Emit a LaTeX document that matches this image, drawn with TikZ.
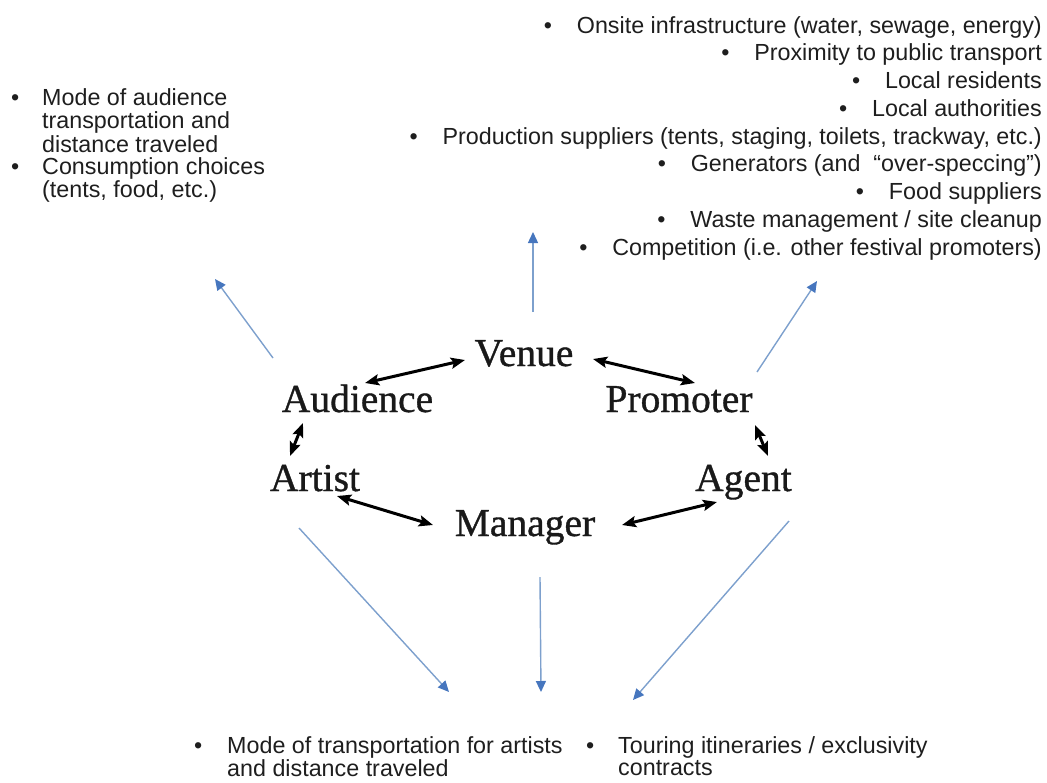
\documentclass[tikz,border=0pt]{standalone}
\usepackage{fontspec}
\setmainfont{Liberation Serif}
\newfontfamily\actorf{Liberation Serif}[BoldFont={Liberation Serif},BoldFeatures={FakeBold=0.9}]
\newfontfamily\arialf{Liberation Sans}
\usetikzlibrary{arrows.meta}
\definecolor{bline}{RGB}{125,160,205}
\definecolor{bhead}{RGB}{70,118,190}
\definecolor{txt}{RGB}{30,30,30}
\newcommand\bulbox[1]{\makebox[#1][l]{\textbullet}}
\begin{document}
\begin{tikzpicture}[x=1pt,y=-1pt,
  actor/.style={anchor=base,inner sep=0pt,font=\actorf\bfseries\fontsize{39.5}{40}\selectfont,text=black!90},
  rel/.style={line width=3pt,{Stealth[length=14pt,width=11pt,inset=2.5pt]}-{Stealth[length=14pt,width=11pt,inset=2.5pt]}},
  impact/.style={line width=1.4pt,draw=bline,-{Triangle[length=11pt,width=10pt,color=bhead]}},
  note/.style={inner sep=0pt,font=\arialf\fontsize{23.3}{22.9}\selectfont,text=txt},
  rline/.style={note,anchor=base east},
  item/.style={note,anchor=base west}
]
\useasboundingbox (0,0) rectangle (1047,782);

% actors
\node[actor] (venue)    at (524,366)   {Venue};
\node[actor] (audience) at (357.5,412) {Audience};
\node[actor] (promoter) at (679,412)   {Promoter};
\node[actor] (artist)   at (315,491)   {Artist};
\node[actor] (agent)    at (743.5,491) {Agent};
\node[actor] (manager)  at (525,536)   {Manager};

% relations
\draw[rel] ([shift={(-59,-6)}]venue.base) -- ([shift={(7.5,-29)}]audience.base);
\draw[rel] ([shift={(69,-7)}]venue.base) -- ([shift={(16,-29)}]promoter.base);
\draw[rel] ([shift={(-54.5,11)}]audience.base) -- ([shift={(-25,-35)}]artist.base);
\draw[rel] ([shift={(76,13)}]promoter.base) -- ([shift={(24.5,-35)}]agent.base);
\draw[rel] ([shift={(22,5)}]artist.base) -- ([shift={(-92,-11)}]manager.base);
\draw[rel] ([shift={(97,-11)}]manager.base) -- ([shift={(-26.5,11)}]agent.base);

% impact arrow ends
\coordinate (tAud) at (215,279);
\coordinate (tVen) at (533,232);
\coordinate (tPro) at (817,281);
\coordinate (tArt) at (449,692);
\coordinate (tMan) at (541,692);
\coordinate (tAge) at (633,700);

\draw[impact] ([shift={(-84.5,-54)}]audience.base) -- (tAud);
\draw[impact] ([shift={(9,-54)}]venue.base) -- (tVen);
\draw[impact] ([shift={(78,-40)}]promoter.base) -- (tPro);
\draw[impact] ([shift={(-16,37)}]artist.base) -- (tArt);
\draw[impact] ([shift={(15,41)}]manager.base) -- (tMan);
\draw[impact] ([shift={(45.5,30)}]agent.base) -- (tAge);

% audience notes
\node[item] (aud1) at (11,105) {\bulbox{31pt}\begin{tabular}[t]{@{}l@{}}Mode of audience\\transportation and\\distance traveled\end{tabular}};
\node[item] (aud2) at (11,174) {\bulbox{31pt}\begin{tabular}[t]{@{}l@{}}Consumption choices\\(tents, food, etc.)\end{tabular}};

% venue / promoter notes
\node[rline] (v1) at (1042,33)    {\bulbox{33pt}Onsite infrastructure (water, sewage, energy)};
\node[rline] (v2) at (1042,60.75) {\bulbox{33pt}Proximity to public transport};
\node[rline] (v3) at (1042,88.5)  {\bulbox{33pt}Local residents};
\node[rline] (v4) at (1042,116.25){\bulbox{33pt}Local authorities};
\node[rline] (v5) at (1042,144)   {\bulbox{33pt}Production suppliers (tents, staging, toilets, trackway, etc.)};
\node[rline] (v6) at (1042,171.75){\bulbox{33pt}Generators (and~ “over-speccing”)};
\node[rline] (v7) at (1042,199.5) {\bulbox{33pt}Food suppliers};
\node[rline] (v8) at (1042,227.25){\bulbox{33pt}Waste management / site cleanup};
\node[rline] (v9) at (1042,255)   {\bulbox{33pt}Competition (i.e. other festival promoters)};

% bottom notes
\node[item] (b1) at (194,753) {\bulbox{33pt}\begin{tabular}[t]{@{}l@{}}Mode of transportation for artists\\and distance traveled\end{tabular}};
\node[item] (b2) at (586,753) {\bulbox{32pt}\begin{tabular}[t]{@{}l@{}}Touring itineraries / exclusivity\\contracts\end{tabular}};
\end{tikzpicture}
\end{document}
